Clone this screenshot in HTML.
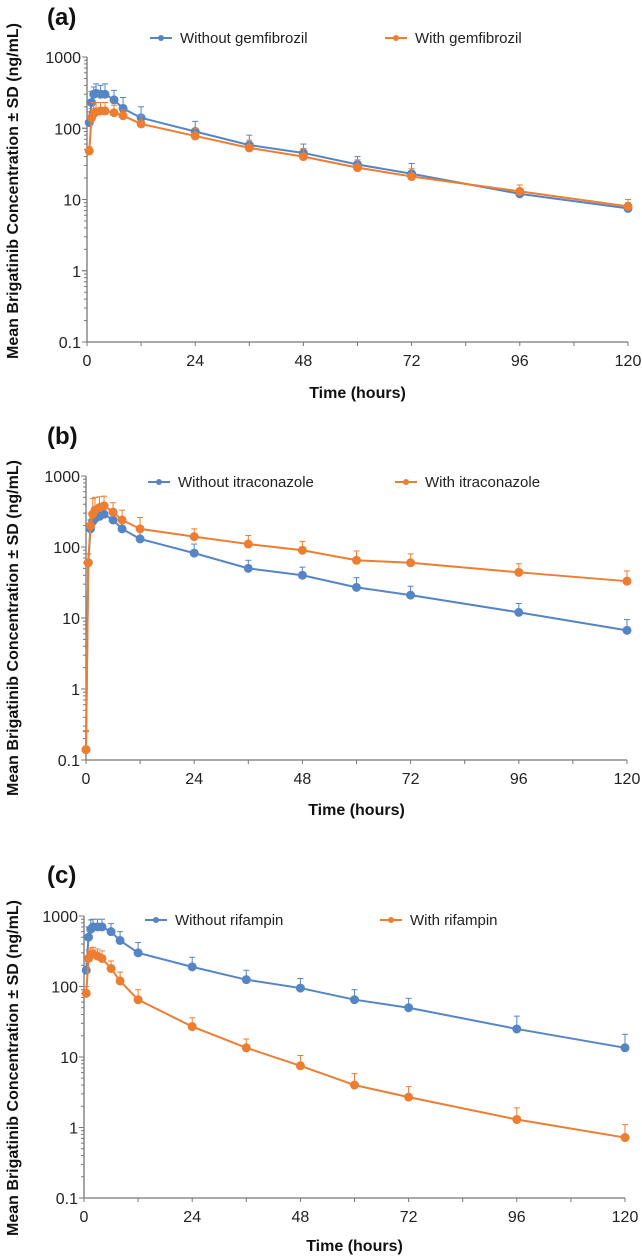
<!DOCTYPE html>
<html><head><meta charset="utf-8"><style>
body{margin:0;background:#fff}
svg{display:block;font-family:"Liberation Sans",Arial,sans-serif}
</style></head><body>
<svg id="chart" width="642" height="1257"></svg>
<script>
const times=[0,0.5,1,1.5,2,3,4,6,8,12,24,36,48,60,72,96,120];
const xTicks=[0,24,48,72,96,120];
const yTicks=[0.1,1,10,100,1000];
const yTickLabels=["0.1","1","10","100","1000"];
// Panel a
const aWithout=[null,120,230,300,310,300,300,250,190,140,90,58,45,31,23,12,7.5];
const aWithoutSD=[null,170,330,380,420,400,420,340,270,200,125,80,60,40,32,14,9];
const aWith=[null,48,140,160,170,175,175,165,150,115,78,53,40,28,21,13,8];
const aWithSD=[null,55,190,230,230,230,230,210,180,150,100,68,52,36,27,16,10];
// Panel b
const bWithout=[0.14,60,180,230,250,270,290,240,180,130,82,50,40,27,21,12,6.7];
const bWithoutSD=[0.25,80,240,300,320,340,360,300,230,170,110,65,52,37,28,16,9.5];
const bWith=[0.14,60,200,290,330,360,380,310,240,180,140,110,90,65,60,44,33];
const bWithSD=[0.26,80,300,480,500,510,520,420,330,260,180,145,120,88,80,58,46];
// Panel c
const cWithout=[null,170,500,650,700,700,700,600,450,300,190,125,95,65,50,25,13.5];
const cWithoutSD=[null,260,700,880,900,900,900,780,600,420,260,170,130,90,68,38,21];
const cWith=[null,80,250,280,290,270,250,180,120,65,27,13.5,7.5,4,2.7,1.3,0.72];
const cWithSD=[null,100,330,350,360,340,320,230,160,90,36,18,10.5,5.8,3.8,1.9,1.1];

const BLUE="#5585c5", ORANGE="#ed7d31";
const svg=document.getElementById('chart');
const NS="http://www.w3.org/2000/svg";
function mk(tag,attrs,parent){const e=document.createElementNS(NS,tag);for(const k in attrs)e.setAttribute(k,attrs[k]);(parent||svg).appendChild(e);return e;}

const panels=[
 {id:'a',label:'(a)',x0:87,x1:628,yTop:57,yBot:342,labY:25,ytc:191,titleY:398,leg:[['Without gemfibrozil',BLUE,150],['With gemfibrozil',ORANGE,385]],legY:38,
  series:[[aWithout,aWithoutSD,BLUE],[aWith,aWithSD,ORANGE]]},
 {id:'b',label:'(b)',x0:86,x1:627,yTop:476,yBot:760,labY:444,ytc:628,titleY:815,leg:[['Without itraconazole',BLUE,148],['With itraconazole',ORANGE,395]],legY:482,
  series:[[bWithout,bWithoutSD,BLUE],[bWith,bWithSD,ORANGE]]},
 {id:'c',label:'(c)',x0:84,x1:625,yTop:916,yBot:1198,labY:883,ytc:1068,titleY:1251,leg:[['Without rifampin',BLUE,145],['With rifampin',ORANGE,380]],legY:920,
  series:[[cWithout,cWithoutSD,BLUE],[cWith,cWithSD,ORANGE]]}
];

panels.forEach(p=>{
 const g=mk('g',{});
 
 
 const xs=t=>p.x0+(p.x1-p.x0)*t/120;
 const ys=v=>p.yBot-(p.yBot-p.yTop)*(Math.log10(v)+1)/4;
 const lab=mk('text',{x:47,y:p.labY,'font-size':24,'font-weight':'bold',fill:'#111'},g);lab.textContent=p.label;
 
 
 const yt=mk('text',{transform:`translate(18,${p.ytc}) rotate(-90)`,'text-anchor':'middle','font-size':16,'font-weight':'bold',fill:'#111'},g);
 yt.textContent='Mean Brigatinib Concentration ± SD (ng/mL)';
 
 
 mk('line',{x1:p.x0,y1:p.yTop,x2:p.x0,y2:p.yBot,stroke:'#777','stroke-width':1.3},g);
 mk('line',{x1:p.x0,y1:p.yBot,x2:p.x1,y2:p.yBot,stroke:'#777','stroke-width':1.3},g);
 for(let d=-1;d<3;d++)for(let m=1;m<=10;m++){const v=m*Math.pow(10,d);const y=ys(v);
  mk('line',{x1:p.x0-(m==1||m==10?5:3),y1:y,x2:p.x0,y2:y,stroke:'#777','stroke-width':1},g);}
 yTicks.forEach((v,i)=>{const t=mk('text',{x:p.x0-6,y:ys(v)+6,'text-anchor':'end','font-size':16,fill:'#222'},g);t.textContent=yTickLabels[i];
  
  });
 for(let h=0;h<=120;h+=12){mk('line',{x1:xs(h),y1:p.yBot,x2:xs(h),y2:p.yBot+4,stroke:'#777','stroke-width':1},g);}
 xTicks.forEach(h=>{const t=mk('text',{x:xs(h),y:p.yBot+24,'text-anchor':'middle','font-size':16,fill:'#222'},g);t.textContent=h;
  
  });
 const xt=mk('text',{x:(p.x0+p.x1)/2,y:p.titleY,'text-anchor':'middle','font-size':16,'font-weight':'bold',fill:'#111'},g);xt.textContent='Time (hours)';
 
 
 p.leg.forEach(([txt,col,lx])=>{
  mk('line',{x1:lx,y1:p.legY,x2:lx+22,y2:p.legY,stroke:col,'stroke-width':2},g);
  mk('circle',{cx:lx+11,cy:p.legY,r:3,fill:col},g);
  const t=mk('text',{x:lx+30,y:p.legY+5,'font-size':15,fill:'#222'},g);t.textContent=txt;
  
  
 });
 p.series.forEach(([vals,sds,col])=>{
  const pts=[];
  vals.forEach((v,i)=>{ if(v==null)return; pts.push([xs(times[i]),ys(v)]);
   const sd=sds[i]; if(sd!=null){const yt2=ys(sd);
    mk('line',{x1:xs(times[i]),y1:ys(v),x2:xs(times[i]),y2:yt2,stroke:col,'stroke-width':1},g);
    mk('line',{x1:xs(times[i])-3,y1:yt2,x2:xs(times[i])+3,y2:yt2,stroke:col,'stroke-width':1},g);}
  });
  const pl=mk('polyline',{points:pts.map(q=>q.join(',')).join(' '),fill:'none',stroke:col,'stroke-width':2},g);
  
  
  pts.forEach(q=>{const c=mk('circle',{cx:q[0],cy:q[1],r:4.5,fill:col},g);
   
   });
 });
});
</script>
</body></html>
